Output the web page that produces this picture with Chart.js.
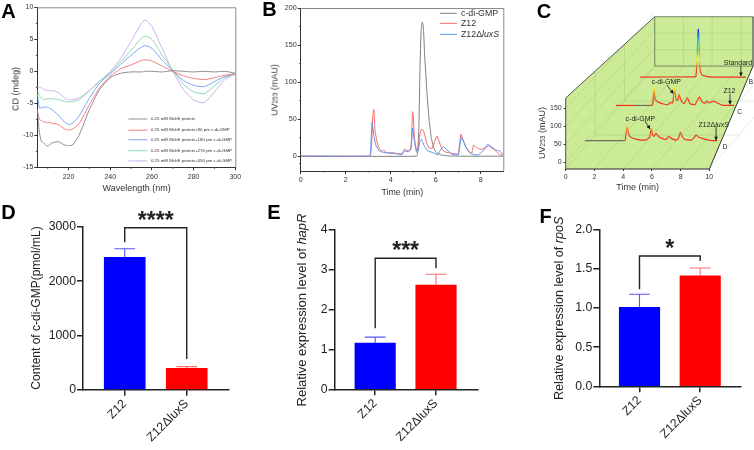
<!DOCTYPE html>
<html><head><meta charset="utf-8">
<script src="https://cdn.jsdelivr.net/npm/chart.js@4"></script>
<style>
html,body{margin:0;padding:0;background:#fff;width:754px;height:450px;overflow:hidden;font-family:"Liberation Sans",Arial,sans-serif;color:#222}
canvas{position:absolute}
.t{position:absolute;white-space:nowrap;line-height:1;transform:translate(-50%,-50%)}
.r{writing-mode:vertical-rl;transform:translate(-50%,-50%) rotate(180deg)}
sub{font-size:.72em;vertical-align:-.22em;line-height:0}
</style></head><body>
<script>
// ---------- Panel A ----------
const aWave=[205,206,207,208,210,212,215,218,220,222,225,230,235,240,245,250,255,257,260,265,270,275,280,285,290,295,300];
const aGray=[-6,-9.5,-11,-11.2,-11.7,-11.2,-11,-11.5,-11.6,-11.5,-10,-6,-2.8,-1,-0.3,-0.1,-0.1,0,0,-0.1,0.1,0,-0.1,0,-0.1,0,-0.3];
const aRed=[-6,-7.5,-7.7,-7.9,-8,-8.1,-8.3,-9,-9.2,-9,-8.2,-5.2,-2.5,-0.8,0.4,1,1.7,1.8,1.6,0.8,0,-0.7,-1.1,-1.3,-1,-0.6,-0.4];
const aBlue=[-3.5,-5.7,-5.7,-5.6,-5.6,-6,-6.8,-7.9,-8.3,-8.1,-7,-4.2,-1.8,-0.4,1.1,2.5,3.8,4,3.6,1.7,0.1,-1.4,-2.2,-2.4,-1.6,-0.8,-0.4];
const aGreen=[-3,-3.8,-4.2,-4.4,-4.3,-4.3,-4.4,-4.7,-4.8,-4.7,-4.5,-3,-1.5,-0.2,1.5,3.3,5.2,5.5,5,2.5,0.2,-2,-3.2,-3.5,-2.3,-1,-0.5];
const aPurple=[-2.5,-2.5,-2.6,-2.8,-3,-3,-3.3,-4.1,-4.5,-4.4,-4.2,-3,-1.5,0,2,4.7,7.5,8,7,3.5,0,-2.8,-4.5,-4.9,-3.2,-1.3,-0.4];
const aLabels=["0.25 mM MshE protein","0.25 mM MshE protein+90 pm c-di-GMP","0.25 mM MshE protein+180 pm c-di-GMP","0.25 mM MshE protein+270 pm c-di-GMP","0.25 mM MshE protein+450 pm c-di-GMP"];
// ---------- Panel B ----------
const bGrayT=[0,5.15,5.2,5.25,5.3,5.35,5.4,5.45,5.5,5.6,5.7,5.8,5.9,6,6.2,6.5,7,9];
const bGrayV=[0,0,5,40,120,170,181,175,140,90,50,25,12,6,2,0.5,0,0];
const bRedT=[0,3.05,3.1,3.15,3.2,3.25,3.3,3.4,3.5,3.6,3.7,3.75,3.9,4.05,4.2,4.5,4.6,4.8,4.9,4.97,5,5.05,5.15,5.2,5.3,5.35,5.42,5.5,5.6,5.7,5.85,5.95,6.05,6.15,6.3,6.5,6.8,7,7.05,7.12,7.2,7.35,7.5,7.6,7.68,7.8,8,8.2,8.35,8.5,8.7,8.85,9];
const bRedV=[0,0,1,15,55,63,35,18,10,7,8,6,4,5,4,3,9,7,12,60,55,25,7,10,30,36,36,30,18,11,11,20,27,20,8,5,3.5,3,15,30,23,12,5,4,15,12,9,11,14,11,6,2,1];
const bBlueT=[0,3.05,3.1,3.17,3.25,3.35,3.5,3.7,4,4.3,4.5,4.6,4.8,4.9,4.97,5.05,5.15,5.22,5.3,5.37,5.5,5.65,5.85,6.1,6.2,6.33,6.45,6.7,7,7.05,7.15,7.3,7.5,7.7,7.9,8.1,8.3,8.5,8.7,8.85,9];
const bBlueV=[0,0,5,46,28,14,7,5,4,3,2,7,6,10,38,20,5,8,20,23,13,7,5,2,8,13,10,3,1.5,10,26,14,5,2,2,7,16,12,8,7,2];
const bLabels=["c-di-GMP","Z12","Z12Δ_luxS_"];
// ---------- Panel C ----------
const cStdT=[5.17,9,9.07,9.13,9.16,9.18,9.2,9.22,9.23,9.24,9.26,9.28,9.3,9.33,9.38,9.5,9.8,10.2,12.55];
const cStdV=[237,238,240,275,310,335,355,368,371,368,355,335,310,275,252,243,239,237,237];
const cZ12T=[3.5,4.9,5.9,6,6.07,6.15,6.23,6.4,6.8,7.1,7.3,7.45,7.53,7.59,7.68,7.8,7.89,8.05,8.25,8.47,8.65,9,9.3,9.5,9.7,9.82,9.95,10.1,10.33,10.6,10.9,11.2,11.72];
const cZ12V=[158,158,158,158,165,209,175,168,162,160,166,165,190,209,175,172,189,170,163,180,163,160,182,168,164,171,166,167,170,164,159,158,158];
const cLuxT=[1.34,4.1,4.15,4.22,4.27,4.35,4.45,4.6,4.9,5.3,5.6,5.75,5.85,5.96,6.05,6.15,6.29,6.45,6.7,7,7.17,7.35,7.7,7.85,7.98,8.1,8.3,8.7,8.9,9.07,9.25,9.5,9.9,10.2,10.56];
const cLuxV=[60,60,62,85,100,85,72,68,64,61,62,66,70,94,75,72,80,72,66,63,72,66,61,66,83,72,63,61,66,75,70,66,62,60,60];
const cTimeTicks=[0,2,4,6,8,10];
const cUvTicks=[0,50,100,150];
const cNotes=[["c-di-GMP",7,222],["Z12",11.4,198],["Standard",12,276],["c-di-GMP",5.2,121],["Z12Δ_luxS_",10.3,104],["B",12.9,222],["C",12.1,140.5],["D",11.1,41.5]];
const cArrows=[[7.05,215,7.5,191],[11.44,190,11.44,161],[12.2,268,12.2,240],[5.52,114.5,5.87,92],[10.47,98,10.47,61]];
// ---------- Panels D, E, F ----------
const barCats=["Z12","Z12ΔluxS"];
const dMeans=[2440,395], dErrTop=[2600,425], dBracket=[2717,2985,565];
const eMeans=[1.16,2.62], eErrTop=[1.31,2.89], eBracket=[1.53,3.29,3.04];
const fMeans=[1.01,1.41], fErrTop=[1.175,1.51], fBracket=[1.24,1.665,1.6];
const blueBar="#0000ff", redBar="#ff0000";

Chart.defaults.font.family='"Liberation Sans",Arial,sans-serif';
Chart.defaults.color="#222";
Chart.defaults.animation=false;
Chart.defaults.plugins.legend.display=false;
Chart.defaults.plugins.tooltip.enabled=false;

function text(html,x,y,size,extra){
  const d=document.createElement("div");d.className="t"+(extra&&extra.rot?" r":"");
  d.innerHTML=html;d.style.left=x+"px";d.style.top=y+"px";d.style.fontSize=size+"px";
  if(extra&&extra.bold)d.style.fontWeight="bold";
  if(extra&&extra.color)d.style.color=extra.color;
  document.body.appendChild(d);
}
function rich(ctx,str,x,y,size,color,center){
  const parts=str.split("_");let w=0;
  const fam='"Liberation Sans",Arial,sans-serif';
  parts.forEach((p,i)=>{ctx.font=(i%2?"italic ":"")+size+"px "+fam;w+=ctx.measureText(p).width;});
  let cx=center?x-w/2:x;ctx.fillStyle=color;ctx.textBaseline="middle";ctx.textAlign="left";
  parts.forEach((p,i)=>{ctx.font=(i%2?"italic ":"")+size+"px "+fam;ctx.fillText(p,cx,y);cx+=ctx.measureText(p).width;});
}
function make(box,area,config){
  const c=document.createElement("canvas");c.width=box.w;c.height=box.h;
  c.style.left=box.x+"px";c.style.top=box.y+"px";c.style.width=box.w+"px";c.style.height=box.h+"px";
  document.body.appendChild(c);
  const o=config.options=config.options||{};
  o.responsive=false;o.events=[];
  o.layout={autoPadding:false,padding:{left:0,bottom:0,top:area.y0-box.y,right:box.x+box.w-area.x1}};
  o.scales.x.afterFit=s=>{s.height=box.y+box.h-area.y1;};
  o.scales.y.afterFit=s=>{s.width=area.x0-box.x;};
  return new Chart(c,config);
}
function setTicks(vals){return s=>{s.ticks=vals.map(v=>({value:v}));};}
function pts(xs,ys){return xs.map((x,i)=>({x:x,y:ys[i]}));}
const framePlugin={id:"frame",afterDatasetsDraw(ch,a,opt){
  const {left,right,top,bottom}=ch.chartArea,c=ch.ctx;
  c.save();c.strokeStyle="#8a8a8a";c.lineWidth=1;c.beginPath();c.moveTo(left,top+.5);c.lineTo(right+.5,top+.5);c.lineTo(right+.5,bottom);c.stroke();
  c.strokeStyle="#444";
  (ch.options.plugins.frame.minorX||[]).forEach(v=>{const x=ch.scales.x.getPixelForValue(v);c.beginPath();c.moveTo(x,bottom);c.lineTo(x,bottom+1.5);c.stroke();});
  (ch.options.plugins.frame.minorY||[]).forEach(v=>{const y=ch.scales.y.getPixelForValue(v);c.beginPath();c.moveTo(left,y);c.lineTo(left-1.5,y);c.stroke();});
  c.restore();
}};
function legendPlugin(labels,colors,vals,x0,x1,xt,size){return {id:"lg",afterDatasetsDraw(ch){
  const c=ch.ctx,X=ch.scales.x,Y=ch.scales.y;c.save();
  labels.forEach((l,i)=>{const y=Y.getPixelForValue(vals[i]);c.strokeStyle=colors[i];c.lineWidth=1;
    c.beginPath();c.moveTo(X.getPixelForValue(x0),y);c.lineTo(X.getPixelForValue(x1),y);c.stroke();
    rich(c,l,X.getPixelForValue(xt),y,size,"#333");});
  c.restore();}};}
const lineAxis=(tf,pad)=>({border:{color:"#333",width:1},grid:{drawOnChartArea:false,tickLength:3,tickColor:"#333"},ticks:{font:{size:tf},padding:pad,color:"#333",maxRotation:0,autoSkip:false}});

// Panel A
const aColors=["#8e8e8e","#f27f7f","#78a6f2","#8fd8ac","#cdb0f2"];
make({x:0,y:0,w:250,h:200},{x0:37.3,x1:235.3,y0:7.3,y1:167.3},{
  type:"line",plugins:[framePlugin,legendPlugin(aLabels,aColors,[-7.45,-9.2,-10.7,-12.4,-14],248.7,257.8,259.5,4.4)],
  data:{datasets:[aGray,aRed,aBlue,aGreen,aPurple].map((s,i)=>({data:pts(aWave,s),borderColor:aColors[i],borderWidth:1,pointRadius:0,tension:.2}))},
  options:{plugins:{frame:{minorX:[210,230,250,270,290],minorY:[-12.5,-7.5,-2.5,2.5,7.5]}},scales:{
    x:{type:"linear",min:205,max:300,afterBuildTicks:setTicks([220,240,260,280,300]),...lineAxis(7,3)},
    y:{min:-15,max:10,afterBuildTicks:setTicks([-15,-10,-5,0,5,10]),...lineAxis(7,1)}}}
});
// Panel B
const bColors=["#7f7f7f","#f46a6a","#5a93ee"];
make({x:250,y:0,w:256,h:200},{x0:300.7,x1:503.3,y0:8,y1:171},{
  type:"line",plugins:[framePlugin,legendPlugin(bLabels,bColors,[192.8,179.3,164.4],6.19,6.94,7.12,8.8)],
  data:{datasets:[pts(bGrayT,bGrayV),pts(bRedT,bRedV),pts(bBlueT,bBlueV)].map((d,i)=>({data:d,borderColor:bColors[i],borderWidth:1,pointRadius:0,tension:.12,order:3-i}))},
  options:{plugins:{frame:{minorX:[1,3,5,7],minorY:[-10,25,75,125,175]}},scales:{
    x:{type:"linear",min:0,max:9,afterBuildTicks:setTicks([0,2,4,6,8]),...lineAxis(7.2,2)},
    y:{min:-20,max:200,afterBuildTicks:setTicks([0,50,100,150,200]),...lineAxis(7.2,1)}}}
});
// Panel C
const cGreen="#cbeb96", cGrid="rgba(110,140,85,.28)";
function poly(p,color){return {data:p.map(q=>({x:q[0],y:q[1]})),fill:"shape",backgroundColor:color,borderWidth:0,pointRadius:0,tension:0,order:30};}
function stroke(p,color,w,order){return {data:p.map(q=>({x:q[0],y:q[1]})),borderColor:color,borderWidth:w,pointRadius:0,tension:0,order:order,clip:false,fill:false};}
const DX=6.2,DV=287.5,FLOOR=-19.5,WTOP=178.8,BK=268,BKTOP=405.9,XEND=13.04;
function gridPts(){
  const g=[],br=[NaN,NaN];
  cTimeTicks.forEach(t=>{g.push([t,FLOOR],[t+DX,BK],br);});
  [0,.33,.66].forEach(f=>{g.push([f*DX,FLOOR+f*DV],[10+f*DX,FLOOR+f*DV],br);g.push([f*DX,FLOOR+f*DV],[f*DX,WTOP+f*(BKTOP-WTOP)],br);});
  cUvTicks.forEach(v=>{g.push([0,v],[DX,v+DV-19.5],br);});
  [2,4,6].forEach(t=>{g.push([DX+t,BK],[DX+t,BKTOP],br);});
  [BK+46,BK+92].forEach(v=>{g.push([DX,v],[XEND,v],br);});
  return g;
}
function cGrad(base){return ctx=>{
  const ch=ctx.chart;if(!ch.chartArea)return "#f03020";
  const y=ch.scales.y,g=ch.ctx.createLinearGradient(0,y.getPixelForValue(base),0,y.getPixelForValue(base+135));
  [[0,"#f03020"],[.16,"#f04a20"],[.27,"#f5a020"],[.36,"#ffee10"],[.55,"#50c040"],[.75,"#30c8d8"],[.93,"#2040e0"],[1,"#2030d0"]].forEach(s=>g.addColorStop(s[0],s[1]));
  return g;};}
function trace(t,v,base,g0,g1){return {data:pts(t,v),borderColor:cGrad(base),borderWidth:1.2,pointRadius:0,tension:0.1,order:1,clip:false,fill:false,
  segment:{borderColor:c=>(c.p0.parsed.x>=g0&&c.p0.parsed.x<g1)?"#6f6f5f":undefined}};}
const cPanelPlugin={id:"cpanel",afterDatasetsDraw(ch){
  const c=ch.ctx,X=ch.scales.x,Y=ch.scales.y;c.save();
  cNotes.forEach(n=>rich(c,n[0],X.getPixelForValue(n[1]),Y.getPixelForValue(n[2]),n[0].length==1?6.5:7,"#222",true));
  c.strokeStyle="#111";c.fillStyle="#111";c.lineWidth=.8;
  cArrows.forEach(a=>{const x0=X.getPixelForValue(a[0]),y0=Y.getPixelForValue(a[1]),x1=X.getPixelForValue(a[2]),y1=Y.getPixelForValue(a[3]);
    c.beginPath();c.moveTo(x0,y0);c.lineTo(x1,y1);c.stroke();
    const an=Math.atan2(y1-y0,x1-x0);c.beginPath();c.moveTo(x1,y1);c.lineTo(x1-4*Math.cos(an-.5),y1-4*Math.sin(an-.5));c.lineTo(x1-4*Math.cos(an+.5),y1-4*Math.sin(an+.5));c.closePath();c.fill();});
  c.restore();}};
const cAxis=(tf,vals)=>({border:{display:false},grid:{drawOnChartArea:false,tickLength:2,tickColor:"#333"},afterBuildTicks:setTicks(vals),ticks:{font:{size:tf},padding:2,color:"#333",maxRotation:0,autoSkip:false}});
make({x:535,y:0,w:219,h:195},{x0:565.7,x1:753,y0:16.7,y1:169},{
  type:"line",plugins:[cPanelPlugin],
  data:{datasets:[
    poly([[0,FLOOR],[0,WTOP],[DX,BKTOP],[XEND,BKTOP],[XEND,BK],[10,FLOOR],[0,FLOOR]],cGreen),
    stroke(gridPts(),cGrid,.6,20),
    stroke([[DX,BK],[DX,BKTOP],[XEND,BKTOP],[XEND,BK],[DX,BK]],"#6d7a60",.9,10),
    stroke([[0,FLOOR],[0,WTOP],[DX,BKTOP]],"#444",.9,9),
    stroke([[0,FLOOR],[10,FLOOR],[XEND,BK]],"#333",1,9),
    trace(cStdT,cStdV,237,99,99),
    trace(cZ12T,cZ12V,158,4.9,5.9),
    trace(cLuxT,cLuxV,60,1.34,3.9)
  ]},
  options:{scales:{x:{type:"linear",min:0,max:XEND,...cAxis(7,cTimeTicks)},y:{min:FLOOR,max:BKTOP,...cAxis(7,cUvTicks)}}}
});
// Panels D, E, F
function barPanel(box,area,xr,yr,yTicks,means,errs,br,stars,starV,label,thick,capHalf,fs,title){
  const top=(i)=>[[i-capHalf,errs[i]],[i+capHalf,errs[i]],[i,errs[i]],[i,means[i]]];
  const whisk=["#5555f5","#ff6f6f"];
  const starPlugin={id:"st",afterDatasetsDraw(ch){const c=ch.ctx;c.save();c.font='bold 23px "Liberation Sans",Arial,sans-serif';c.fillStyle="#222";
    c.textAlign="center";c.textBaseline="alphabetic";c.fillText(stars,ch.scales.x.getPixelForValue(.5),ch.scales.y.getPixelForValue(starV)+10);c.restore();
    c.save();c.translate(title[1]-box.x,title[2]-box.y);c.rotate(-Math.PI/2);rich(c,title[0],0,0,title[3],"#222",true);c.restore();}};
  make(box,area,{
    type:"bar",plugins:[starPlugin],
    data:{datasets:[
      {type:"bar",data:[{x:0,y:means[0]},{x:1,y:means[1]}],backgroundColor:[blueBar,redBar],barThickness:thick,order:5},
      stroke(top(0),whisk[0],1.1,3),
      stroke(top(1),whisk[1],1.1,3),
      stroke([[0,br[0]],[0,br[1]],[1,br[1]],[1,br[2]]],"#222",1.4,1)
    ].map(d=>{if(d.type!=="bar")d.type="line";return d;})},
    options:{scales:{
      x:{type:"linear",offset:false,min:xr[0],max:xr[1],afterBuildTicks:setTicks([0,1]),border:{color:"#222",width:1.5},
         grid:{offset:false,drawOnChartArea:false,tickLength:6,tickColor:"#222",lineWidth:1.5},
         ticks:{callback:v=>barCats[v],font:{size:fs},color:"#222",minRotation:45,maxRotation:45,autoSkip:false,padding:1}},
      y:{min:yr[0],max:yr[1],afterBuildTicks:setTicks(yTicks),border:{color:"#222",width:1.5},
         grid:{drawOnChartArea:false,tickLength:6,tickColor:"#222",lineWidth:1.5},
         ticks:{font:{size:fs},color:"#222",padding:1,callback:label}}}}
  });
}
barPanel({x:0,y:200,w:258,h:250},{x0:83,x1:228.7,y0:227,y1:389.7},[-.673,1.677],[0,3000],[0,1000,2000,3000],dMeans,dErrTop,dBracket,"****",3160,v=>String(v),41,.167,12.3,["Content of c-di-GMP(pmol/mL)",36.7,308,12]);
barPanel({x:258,y:200,w:252,h:250},{x0:334.7,x1:477.3,y0:230,y1:389.3},[-.666,1.679],[0,4],[0,1,2,3,4],eMeans,eErrTop,eBracket,"***",3.56,v=>String(v),40.5,.17,12.3,["Relative expression level of _hapR_",302.3,310,13]);
barPanel({x:510,y:200,w:244,h:250},{x0:599.3,x1:740.7,y0:229.7,y1:386.3},[-.662,1.667],[0,2],[0,.5,1,1.5,2],fMeans,fErrTop,fBracket,"*",1.79,v=>v.toFixed(1),40.5,.17,12.3,["Relative expression level of _rpoS_",559.3,308.3,12.6]);

// Text
[["A",8.5,10.5],["B",269.5,8.5],["C",544,10.5],["D",8.5,212],["E",274,212],["F",545.5,215.5]].forEach(l=>text(l[0],l[1],l[2],20,{bold:true,color:"#000"}));
text("CD (mdeg)",15.7,89,9,{rot:true,color:"#333"});
text("Wavelength (nm)",136.7,188,9,{color:"#333"});
text("UV<sub>253</sub> (mAU)",275.3,90,9,{rot:true,color:"#333"});
text("Time (min)",402.3,192.3,8.8,{color:"#333"});
text("UV<sub>253</sub> (mAU)",541.7,133,9,{rot:true,color:"#333"});
text("Time (min)",637.7,187.3,9,{color:"#333"});
</script>
</body></html>
